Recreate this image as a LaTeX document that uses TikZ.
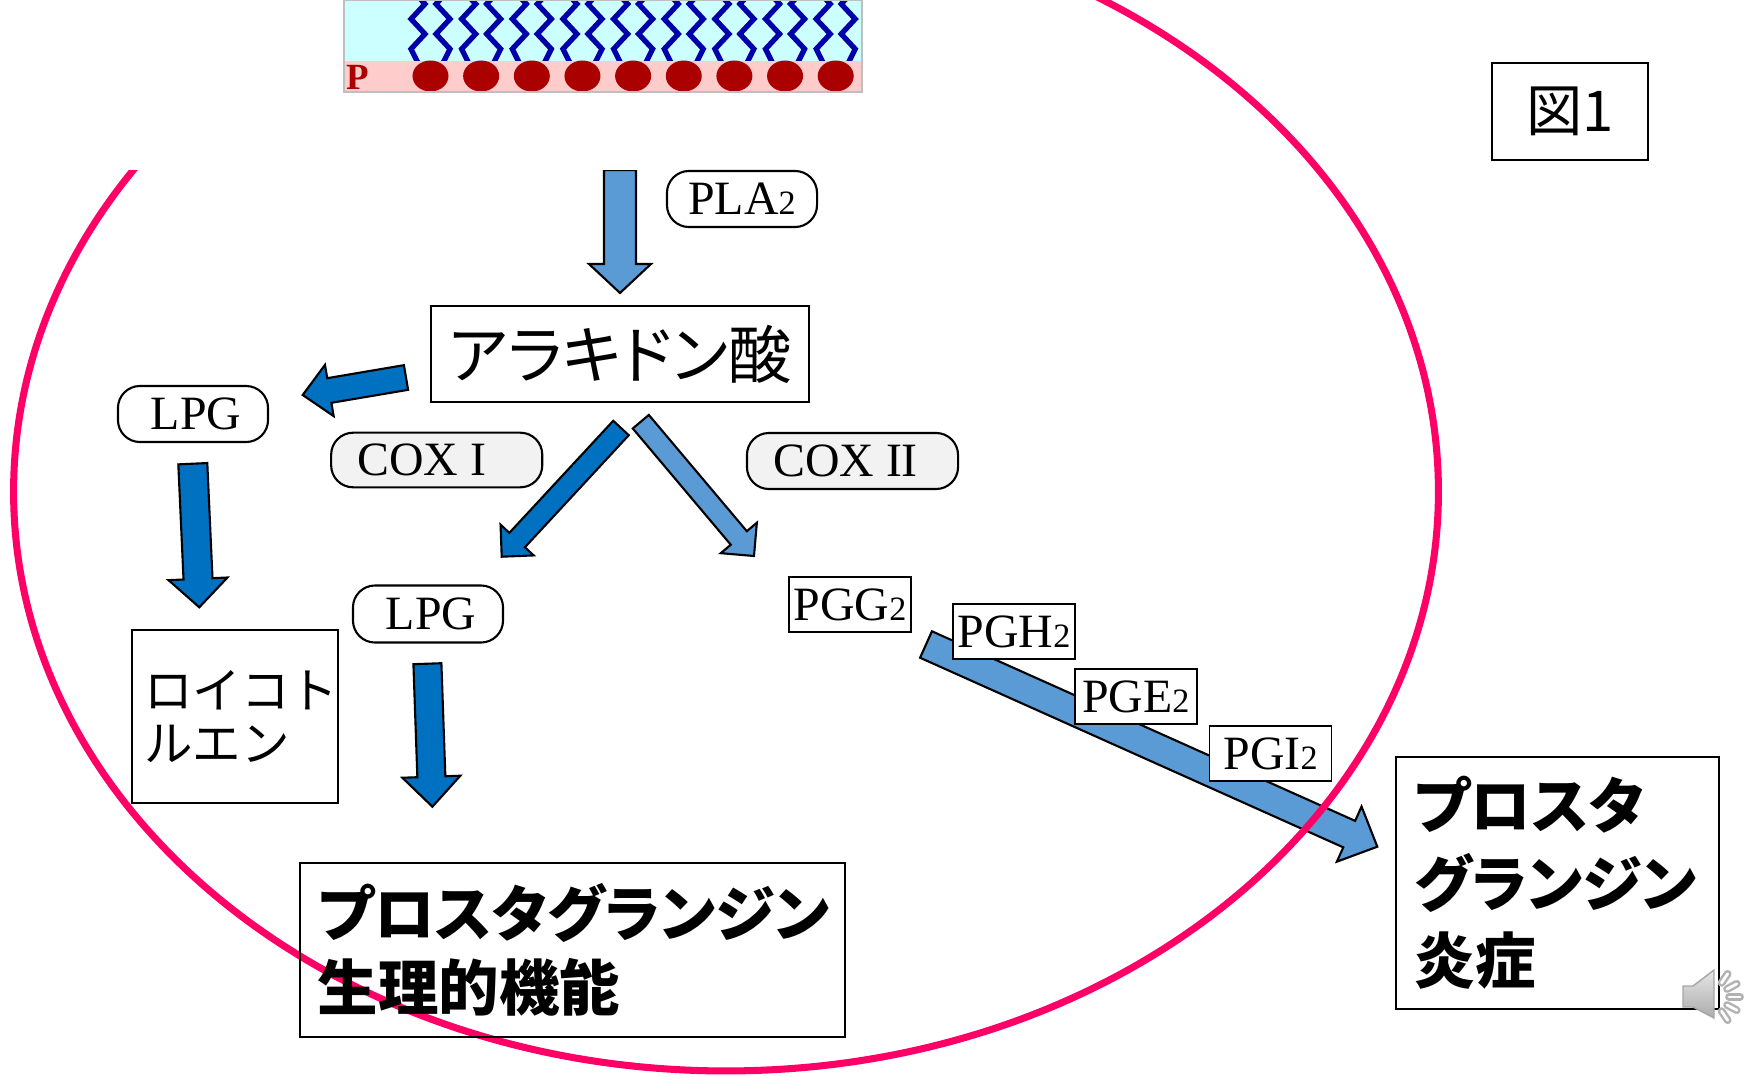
\documentclass[tikz,border=0pt]{standalone}
\usepackage{fontspec}
\setmainfont{Liberation Serif}
\newfontfamily\jpfont{Noto Sans CJK JP}
\newfontfamily\jppfont{Noto Sans CJK JP}[RawFeature=+palt]
\usetikzlibrary{calc}
\definecolor{ringred}{RGB}{255,0,102}
\definecolor{darkblue}{RGB}{0,112,192}
\definecolor{lightblue}{RGB}{91,155,213}
\definecolor{lipidcyan}{RGB}{204,255,255}
\definecolor{headpink}{RGB}{255,204,204}
\definecolor{headred}{RGB}{170,0,0}
\definecolor{tailblue}{RGB}{0,0,170}
\definecolor{enzgrey}{RGB}{242,242,242}

\newcommand\smallnum[1]{{\fontsize{9.7}{10}\selectfont #1}}
\newcommand\padr[1]{\rule{#1}{0pt}}

% block arrow: style, tail, tip, half shaft, half head, head length (px)
\newcommand\blockarrow[6]{%
  \path ($(#3)!#6*0.01cm!(#2)$) coordinate (ah);
  \draw[#1] ($(#2)!#4*0.01cm!90:(#3)$) -- ($(ah)!#4*0.01cm!-90:(#2)$)
    -- ($(ah)!#5*0.01cm!-90:(#2)$) -- (#3)
    -- ($(ah)!#5*0.01cm!90:(#2)$) -- ($(ah)!#4*0.01cm!90:(#2)$)
    -- ($(#2)!#4*0.01cm!-90:(#3)$) -- cycle;
}

\tikzset{
  darrow/.style={draw=black, line width=0.6pt, fill=darkblue},
  larrow/.style={draw=black, line width=0.6pt, fill=lightblue},
  ring/.style={draw=ringred, line width=2pt},
  tail/.style={draw=tailblue, line width=1.5pt},
  enzyme/.style={draw, line width=0.6pt, fill=white, rounded corners=0.22cm,
    minimum width=1.5cm, minimum height=0.56cm, inner sep=0pt,
    font=\fontsize{13.6}{16}\selectfont},
  cox/.style={enzyme, fill=enzgrey, minimum width=2.11cm},
  pgbox/.style={draw, line width=0.5pt, fill=white, minimum width=1.22cm,
    minimum height=0.55cm, inner sep=0pt, font=\fontsize{13.6}{16}\selectfont},
  jpbox/.style={draw, line width=0.6pt, fill=white, inner sep=0pt},
  jpbold/.style={font=\jppfont\bfseries\fontsize{17.2}{22}\selectfont, align=left},
}

\begin{document}
\begin{tikzpicture}[x=0.01cm, y=-0.01cm, line join=miter]
  \fill[white] (0,0) rectangle (1752,1076);
  \useasboundingbox (0,0) rectangle (1752,1076);

  % arrow ends
  \coordinate (plaT) at (620,170);     \coordinate (plaP) at (620,293);
  \coordinate (lpgT) at (406,377.5);   \coordinate (lpgP) at (302.7,395);
  \coordinate (coxaT) at (621,428);    \coordinate (coxaP) at (501.7,556.7);
  \coordinate (coxbT) at (640.8,421.7);\coordinate (coxbP) at (754,556);
  \coordinate (ltT) at (192.8,463.7);  \coordinate (ltP) at (199.3,607.3);
  \coordinate (pgT) at (427.4,663.7);  \coordinate (pgP) at (432.4,806.7);
  \coordinate (infT) at (926,644.5);   \coordinate (infP) at (1377.3,846.7);

  \blockarrow{larrow}{plaT}{plaP}{16}{31}{29}
  \blockarrow{darrow}{lpgT}{lpgP}{12.5}{26}{27}
  \blockarrow{darrow}{coxaT}{coxaP}{10.6}{22.6}{22.7}
  \blockarrow{larrow}{coxbT}{coxbP}{10.5}{23.6}{23.6}
  \blockarrow{darrow}{ltT}{ltP}{14.5}{29.5}{28.5}
  \blockarrow{darrow}{pgT}{pgP}{14}{29}{30}
  \blockarrow{larrow}{infT}{infP}{14.5}{30.2}{30.8}

  % cell
  \draw[ring] (726,491.6) ellipse [x radius=7.12cm, y radius=5.79cm];
  \fill[white] (0,0) rectangle (1000,170);

  % membrane
  \fill[lipidcyan] (344,0) rectangle (862,61);
  \fill[headpink] (344,61) rectangle (862,92);
  \begin{scope}
    \clip (344,0) rectangle (862,61);
    \foreach \i in {0,...,8} {
      \pgfmathsetmacro\hx{430.5+50.65*\i}
      \draw[tail] (\hx-12.5,63) -- ++(-7,-14) -- ++(14,-15) -- ++(-14,-15)
        -- ++(14,-15) -- ++(-14,-15);
      \draw[tail] (\hx+12.5,63) -- ++(7,-14) -- ++(-14,-15) -- ++(14,-15)
        -- ++(-14,-15) -- ++(14,-15);
    }
  \end{scope}
  \foreach \i in {0,...,8}
    \fill[headred] (430.5+50.65*\i,76) ellipse [x radius=0.18cm, y radius=0.155cm];
  \draw[gray!50, line width=0.3pt] (344,0) rectangle (862,92);
  \node[text=headred, inner sep=0pt, font=\bfseries\fontsize{10.5}{10.5}\selectfont]
    (pmark) at (358,77) {P};

  % enzymes and products
  \node[enzyme] (pla) at (742,199) {PLA\smallnum{2}};
  \node[jpbox, minimum width=3.78cm, minimum height=0.96cm,
    font=\jppfont\fontsize{18}{21}\selectfont] (aa) at (620,354) {アラキドン酸};
  \node[enzyme] (lpga) at (193,414) {\padr{0.06cm}LPG};
  \node[cox, minimum height=0.546cm] (coxa) at (436.7,460) {COX I\padr{0.3cm}};
  \node[cox] (coxb) at (852.5,461) {COX II\padr{0.14cm}};
  \node[enzyme, minimum height=0.57cm] (lpgb) at (428,614) {\padr{0.06cm}LPG};
  \node[jpbox, text width=1.81cm, inner xsep=0.125cm, minimum height=1.73cm,
    align=left, font=\jpfont\fontsize{13.8}{15.2}\selectfont] (lt) at (234.7,716.5)
    {ロイコト\\ルエン};

  \node[pgbox] (pgg) at (850,604.5) {PGG\smallnum{2}};
  \node[pgbox] (pgh) at (1014,631.8) {PGH\smallnum{2}};
  \node[pgbox] (pge) at (1135.8,696.5) {PGE\smallnum{2}};
  \node[pgbox] (pgi) at (1270.5,753.5) {PGI\smallnum{2}};

  \node[draw, line width=0.6pt, inner xsep=0.18cm, text width=5.087cm,
    minimum height=1.735cm, jpbold, font=\jppfont\bfseries\fontsize{17.2}{21}\selectfont]
    (func) at (572.3,950.2) {プロスタグランジン\\生理的機能};
  \node[jpbox, inner xsep=0.186cm, text width=2.858cm, minimum height=2.52cm,
    jpbold] (infl) at (1557.5,883)
    {プロスタ\\グランジン\\炎症};

  \node[jpbox, minimum width=1.56cm, minimum height=0.965cm,
    font=\jpfont\fontsize{16}{19}\selectfont] (fig) at (1570,111.7) {図1};

  % speaker
  \shade[top color=gray!20, bottom color=gray!65, draw=gray!70, line width=0.4pt]
    (1683,986) -- (1693,986) -- (1714,970) -- (1714,1018) -- (1693,1007)
    -- (1683,1007) -- cycle;
  \foreach \a in {-56,-28,0,28,56} {
    \draw[gray!60, line width=2.2pt, line cap=round] (1712,997) ++(\a:0.17cm) -- ++(\a:0.11cm);
    \draw[white, line width=0.8pt, line cap=round] (1712,997) ++(\a:0.17cm) -- ++(\a:0.11cm);
  }
\end{tikzpicture}
\end{document}
